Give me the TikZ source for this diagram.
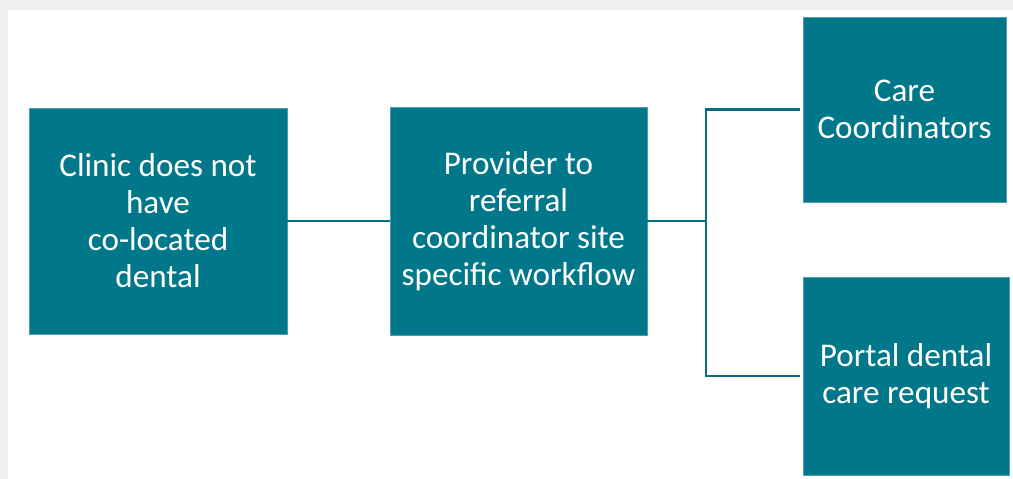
\documentclass[tikz,border=0pt]{standalone}
\usepackage{fontspec}
\setmainfont{Carlito}
\definecolor{tealbox}{RGB}{0,120,138}
\definecolor{tealline}{RGB}{10,110,126}

\begin{document}
\begin{tikzpicture}[x=0.03cm,y=-0.03cm,
	box/.style={fill=tealbox,draw=tealbox!70!white,line width=0.5pt,text=white,align=center,inner sep=0pt,
		font=\fontsize{28.3pt}{31.6pt}\selectfont},
	link/.style={draw=tealline,line width=2.2pt}]
	\useasboundingbox(0,0)rectangle(1013,479);
	\fill[black!6](0,0)rectangle(1013,10);
	\fill[black!6](0,0)rectangle(8,479);
	\node[box,minimum width=258*0.03cm,minimum height=226*0.03cm](clinic)at(158,221){Clinic does not\\have\\co-located\\dental};
	\node[box,minimum width=257*0.03cm,minimum height=228*0.03cm](provider)at(518.5,221){Provider to\\referral\\coordinator site\\specific workflow};
	\node[box,minimum width=203*0.03cm,minimum height=185*0.03cm](care)at(904.5,109.5){Care\\Coordinators};
	\node[box,minimum width=206*0.03cm,minimum height=198*0.03cm](portal)at(906,376){Portal dental\\care request};
	\coordinate(split)at(706,221);
	\draw[link](clinic.east)--(provider.west);
	\draw[link](provider.east)--(split);
	\draw[link]([xshift=-2.5pt]care.west)-|(split)|-([xshift=-2.5pt]portal.west);
\end{tikzpicture}
\end{document}
